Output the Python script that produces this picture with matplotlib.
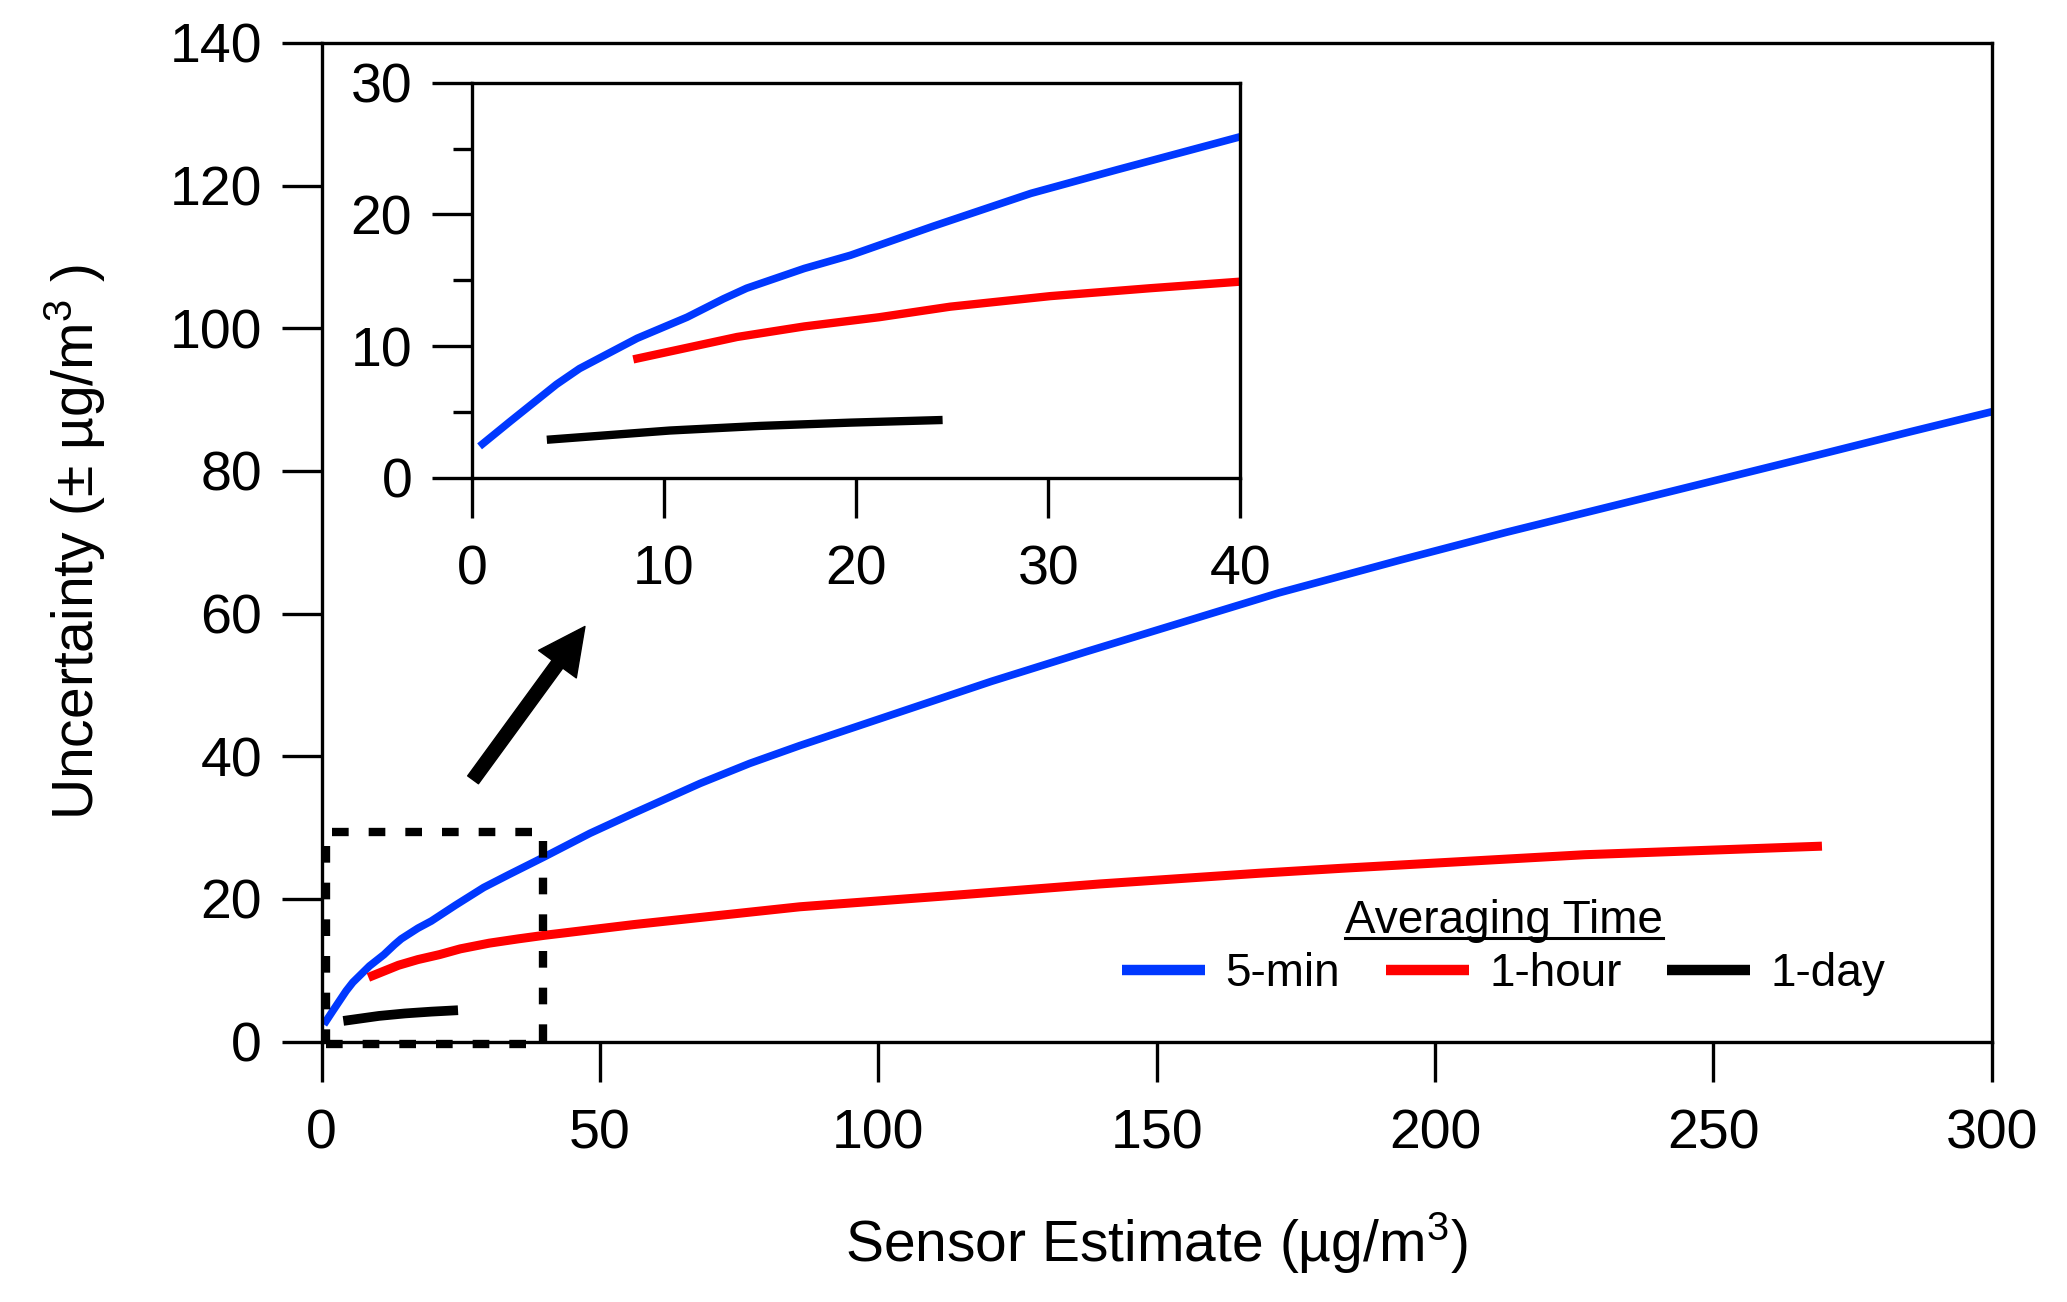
import numpy as np
import matplotlib.pyplot as plt
from matplotlib.lines import Line2D
from matplotlib.patches import FancyArrowPatch

plt.rcParams['font.family'] = ['Liberation Sans', 'DejaVu Sans']
plt.rcParams['mathtext.fontset'] = 'custom'
plt.rcParams['mathtext.rm'] = 'Liberation Sans'
plt.rcParams['mathtext.it'] = 'Liberation Sans:italic'

# curve values
five_min_x = [0.4, 2.0, 4.4, 5.6, 8.6, 11.2, 13.1, 14.3, 17.3, 19.7, 24.0, 29.1, 33.6,
              40.0, 48.2, 56.0, 68.0, 76.9, 85.9, 103.1, 120.3, 137.5, 154.7, 171.9,
              193.7, 212.8, 231.9, 251.0, 270.1, 285.4, 300.0]
five_min_y = [2.4, 4.3, 7.1, 8.3, 10.6, 12.2, 13.6, 14.4, 15.9, 16.9, 19.1, 21.6, 23.4,
              25.9, 29.2, 32.0, 36.2, 39.0, 41.5, 46.0, 50.5, 54.7, 58.8, 62.9,
              67.5, 71.4, 75.1, 78.8, 82.5, 85.5, 88.3]
one_hour_x = [8.4, 13.8, 17.3, 21.2, 24.9, 30.1, 35.3, 40.0, 56.0, 85.9, 113.4,
              139.8, 168.4, 183.3, 226.9, 269.5]
one_hour_y = [9.0, 10.7, 11.5, 12.2, 13.0, 13.8, 14.4, 14.9, 16.4, 18.9, 20.5,
              22.1, 23.6, 24.3, 26.2, 27.4]
one_day_x = [3.9, 10.3, 15.0, 19.7, 24.5]
one_day_y = [2.9, 3.6, 3.95, 4.2, 4.4]

labels = ['5-min', '1-hour', '1-day']
colors = ['#0038FF', '#FF0000', '#000000']
main_widths = [5.5, 6.5, 7]
inset_widths = [5.5, 6, 6]

zoom_x = [0.7, 39.7]
zoom_y = [-0.4, 29.4]
arrow_tail = (27.2, 36.7)
arrow_tip = (47.3, 58.2)

FS = 40
LW = 2.4

series = [(five_min_x, five_min_y), (one_hour_x, one_hour_y), (one_day_x, one_day_y)]

fig = plt.figure(figsize=(20.67, 13.02), dpi=100)
ax = fig.add_axes([0.1556, 0.2000, 0.8080, 0.7670])

for (xs, ys), c, w in zip(series, colors, main_widths):
    ax.plot(xs, ys, color=c, lw=w, solid_capstyle='butt', solid_joinstyle='round')

# dashed box around the zoomed region
dash = (0, (2.0, 2.4))
bx = [zoom_x[0], zoom_x[1], zoom_x[1], zoom_x[0], zoom_x[0]]
by = [zoom_y[0], zoom_y[0], zoom_y[1], zoom_y[1], zoom_y[0]]
ax.plot(bx, by, color='black', lw=6, linestyle=dash, clip_on=False, zorder=5)

arr = FancyArrowPatch(arrow_tail, arrow_tip, arrowstyle='simple,head_length=1.4,head_width=1.4,tail_width=0.4',
                      mutation_scale=24, color='black', shrinkA=0, shrinkB=0)
ax.add_patch(arr)

ax.set_xlim(0, 300)
ax.set_ylim(0, 140)
ax.set_xticks([0, 50, 100, 150, 200, 250, 300])
ax.set_yticks([0, 20, 40, 60, 80, 100, 120, 140])
for s in ax.spines.values():
    s.set_linewidth(LW)
ax.tick_params(axis='x', direction='out', length=29, width=LW, pad=19, labelsize=FS)
ax.tick_params(axis='y', direction='out', length=29, width=LW, pad=14, labelsize=FS)
ax.set_xlabel('Sensor Estimate (µg/m$^{3}$)', fontsize=41, labelpad=36)
ax.set_ylabel('Uncertainty (± µg/m$^{3}$ )', fontsize=41, labelpad=44)

# legend
handles = [Line2D([], [], color=c, lw=7.5, solid_capstyle='butt') for c in colors]
leg = ax.legend(handles, labels, ncol=3, title='Averaging Time', frameon=False,
                fontsize=33, title_fontsize=33, handlelength=1.8, handletextpad=0.45,
                columnspacing=1.0, loc='center', bbox_to_anchor=(0.7276, 0.272),
                bbox_transform=fig.transFigure, borderpad=0, labelspacing=0.2)

# inset
axi = fig.add_axes([0.2283, 0.6329, 0.3718, 0.3036])
for (xs, ys), c, w in zip(series, colors, inset_widths):
    axi.plot(xs, ys, color=c, lw=w, solid_capstyle='butt', solid_joinstyle='round')
axi.set_xlim(0, 40)
axi.set_ylim(0, 30)
axi.set_xticks([0, 10, 20, 30, 40])
axi.set_yticks([0, 10, 20, 30])
axi.set_yticks([5, 15, 25], minor=True)
for s in axi.spines.values():
    s.set_linewidth(LW)
axi.tick_params(axis='x', direction='out', length=29, width=LW, pad=19, labelsize=FS)
axi.tick_params(axis='y', direction='out', length=29, width=LW, pad=14, labelsize=FS)
axi.tick_params(axis='y', which='minor', direction='out', length=14, width=LW)

# underline the legend title
fig.canvas.draw()
tb = leg.get_title().get_window_extent().transformed(fig.transFigure.inverted())
uy = tb.y0 + 0.004
fig.add_artist(Line2D([tb.x0, tb.x1], [uy, uy], color='black', lw=2.2, transform=fig.transFigure))

fig.savefig('out.png', dpi=100)
